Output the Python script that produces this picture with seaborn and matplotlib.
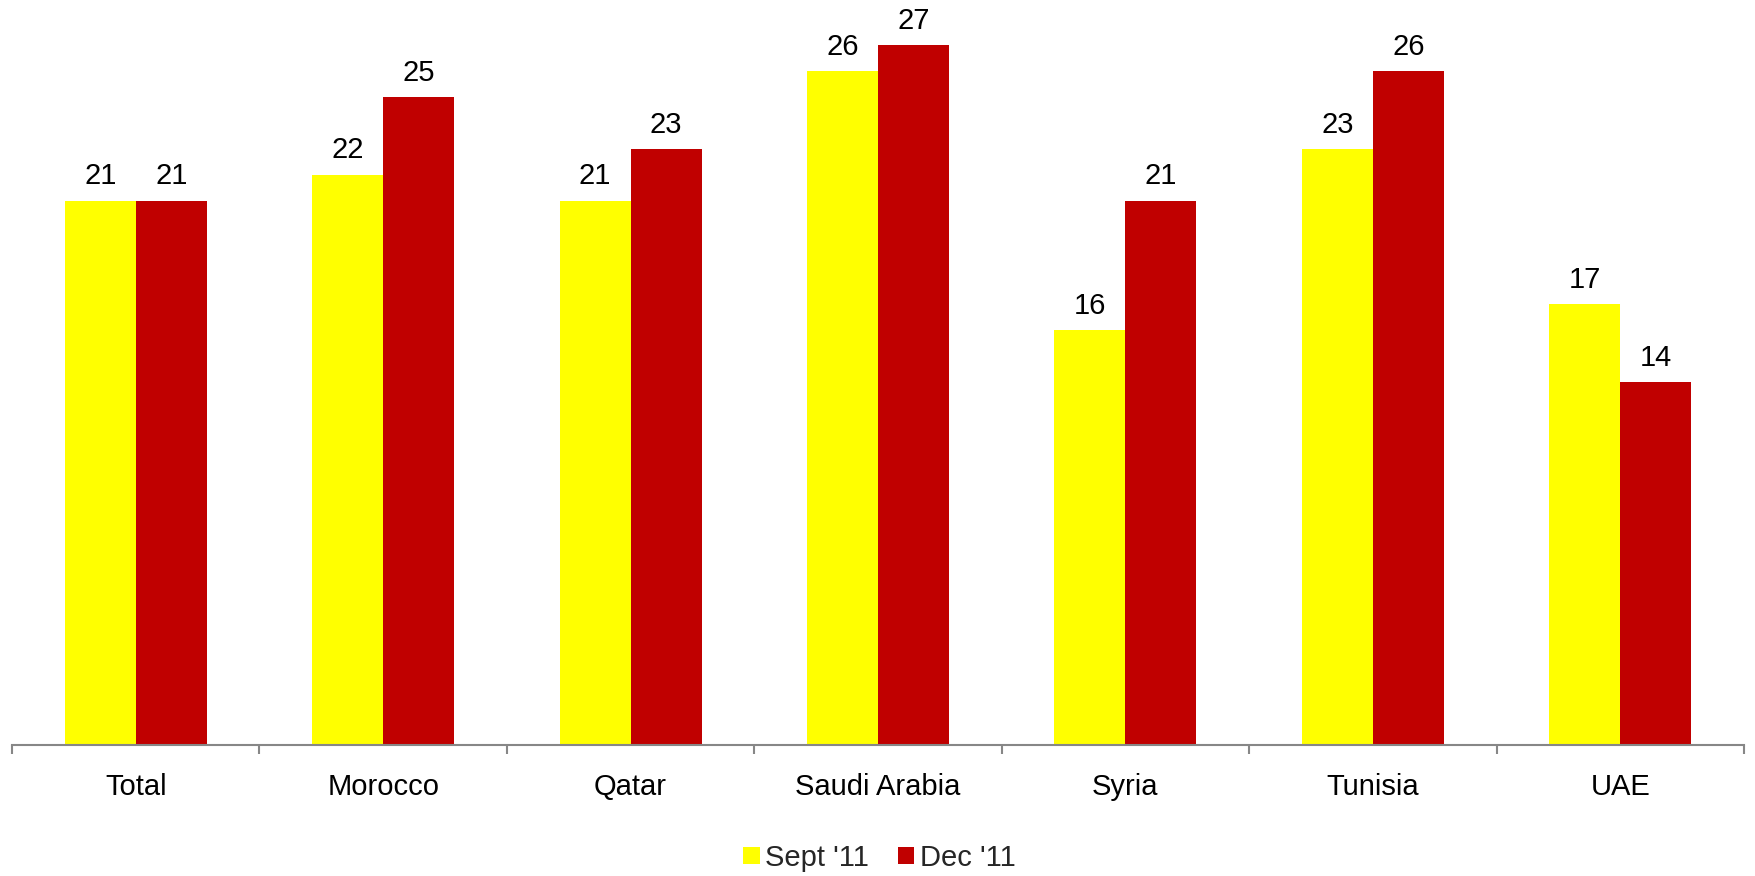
import matplotlib
matplotlib.use("Agg")
import matplotlib.pyplot as plt
from matplotlib.patches import Patch
from matplotlib.ticker import FixedLocator
import pandas as pd
import seaborn as sns

# Survey results by country, two waves
countries = ["Total", "Morocco", "Qatar", "Saudi Arabia", "Syria", "Tunisia", "UAE"]
sept_11 = [21, 22, 21, 26, 16, 23, 17]
dec_11 = [21, 25, 23, 27, 21, 26, 14]
series_names = ["Sept '11", "Dec '11"]
series_colors = ["#FFFF00", "#C00000"]

df = pd.DataFrame({
    "country": countries * 2,
    "wave": [series_names[0]] * len(countries) + [series_names[1]] * len(countries),
    "value": sept_11 + dec_11,
})

sns.set_theme(style="white")
plt.rcParams["font.family"] = ["Liberation Sans", "DejaVu Sans"]

W, H, DPI = 1756, 876, 100
fig = plt.figure(figsize=(W / DPI, H / DPI), dpi=DPI)
ax = fig.add_axes([12 / W, 131 / H, 1732 / W, 745 / H])

sns.barplot(
    data=df, x="country", y="value", hue="wave", order=countries,
    hue_order=series_names, palette=series_colors, width=0.574,
    saturation=1, linewidth=0, ax=ax, legend=False,
)

# Value labels above each bar
for container in ax.containers:
    for bar in container:
        h = bar.get_height()
        ax.annotate(
            f"{h:.0f}", (bar.get_x() + bar.get_width() / 2, h),
            xytext=(0, 11.7), textcoords="offset points",
            ha="center", va="baseline", fontsize=21, color="black",
        )

ax.set_xlim(-0.5, len(countries) - 0.5)
ax.set_ylim(0, 28.74)
ax.set_xlabel("")
ax.set_ylabel("")
ax.set_yticks([])

for side in ["top", "right", "left"]:
    ax.spines[side].set_visible(False)
ax.spines["bottom"].set_color("#878787")
ax.spines["bottom"].set_linewidth(1.5)

# Category labels centered, tick marks at category boundaries
ax.tick_params(axis="x", which="major", length=0, pad=20, labelsize=21,
               labelcolor="black")
ax.xaxis.set_minor_locator(FixedLocator([i - 0.5 for i in range(len(countries) + 1)]))
ax.tick_params(axis="x", which="minor", length=6.5, width=1.5, color="#878787",
               direction="out", bottom=True)

handles = [Patch(facecolor=c, edgecolor="none") for c in series_colors]
fig.legend(
    handles, series_names, loc="center", bbox_to_anchor=(0.501, 18 / H),
    ncol=2, frameon=False, fontsize=21, handlelength=0.55, handleheight=0.55,
    handletextpad=0.2, columnspacing=1.0, borderpad=0,
)

fig.savefig("out.png", dpi=DPI, facecolor="white")
